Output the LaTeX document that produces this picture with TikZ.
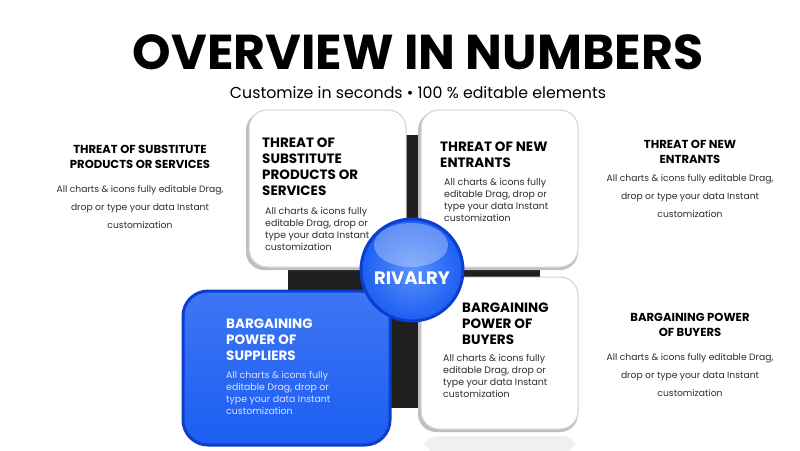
\documentclass[tikz,border=0pt]{standalone}
\usepackage{fontspec}
\setmainfont{Poppins}
\usetikzlibrary{positioning,shadings}
\definecolor{rivalblue}{RGB}{28,94,242}
\definecolor{deepblue}{RGB}{12,62,205}
\definecolor{lightblue}{RGB}{90,145,250}
\definecolor{inkgray}{RGB}{45,45,45}
\tikzset{
  card/.style={draw=gray!35, line width=1pt, fill=white, rounded corners=18pt},
  cardshade/.style={fill=gray!50, rounded corners=18pt},
  cardhead/.style={anchor=west, align=left, inner sep=0pt, font=\bfseries\fontsize{13.5}{16}\selectfont},
  cardbody/.style={anchor=west, align=left, inner sep=0pt, text=inkgray, font=\fontsize{9.4}{12}\selectfont},
  sidehead/.style={align=center, inner sep=0pt, font=\bfseries\fontsize{11.6}{14.5}\selectfont},
  sidebody/.style={align=center, inner sep=0pt, text=inkgray, font=\fontsize{9.2}{18}\selectfont},
}
\begin{document}
\begin{tikzpicture}[x=1pt, y=-1pt]
    \useasboundingbox (0,0) rectangle (800,450);
    % heading
    \node[font=\bfseries\fontsize{49}{56}\selectfont] (title) at (418,52) {OVERVIEW IN NUMBERS};
    \node[font=\fontsize{15.8}{18}\selectfont] (subtitle) at (418,93) {Customize in seconds \textbullet\ 100 \% editable elements};
    % dark square behind the cards
    \fill[black!88] (288,135) rectangle (540,408);
    % white cards
    \fill[cardshade] (246,112) rectangle (406,270);
    \draw[card] (249,110) rectangle (406,267);
    \fill[cardshade] (418,112) rectangle (578,270);
    \draw[card] (421,110) rectangle (578,267);
    \fill[gray!12, rounded corners=12pt] (424,436) rectangle (575,452);
    \fill[cardshade] (418,279) rectangle (578,432);
    \draw[card] (421,277) rectangle (578,429);
    % blue card
    \draw[line width=3pt, draw=deepblue, top color=rivalblue!85!white, bottom color=rivalblue, rounded corners=25pt] (183,291) rectangle (390,445);
    % rivalry ball
    \draw[line width=3pt, draw=deepblue, inner color=lightblue, outer color=rivalblue] (412,270) circle (51);
    \fill[white, opacity=0.3] (411,245) ellipse (37 and 22);
    \node[text=white, font=\bfseries\fontsize{18}{20}\selectfont] (rivalry) at (412,278) {RIVALRY};
    % card texts
    \node[cardhead] (subsHead) at (262,167) {THREAT OF\\SUBSTITUTE\\PRODUCTS OR\\SERVICES};
    \node[cardbody] (subsBody) at (265,229) {All charts \& icons fully\\editable Drag, drop or\\type your data Instant\\customization};
    \node[cardhead] (entrHead) at (440,154.5) {THREAT OF NEW\\ENTRANTS};
    \node[cardbody] (entrBody) at (444,200) {All charts \& icons fully\\editable Drag, drop or\\type your data Instant\\customization};
    \node[cardhead] (buyHead) at (462,324) {BARGAINING\\POWER OF\\BUYERS};
    \node[cardbody] (buyBody) at (443,376) {All charts \& icons fully\\editable Drag, drop or\\type your data Instant\\customization};
    \node[cardhead, text=white] (suppHead) at (226,340) {BARGAINING\\POWER OF\\SUPPLIERS};
    \node[cardbody, text=white!88!blue] (suppBody) at (226,393) {All charts \& icons fully\\editable Drag, drop or\\type your data Instant\\customization};
    % side texts
    \node[sidehead] (leftHead) at (140,157) {THREAT OF SUBSTITUTE\\PRODUCTS OR SERVICES};
    \node[sidebody] (leftBody) at (140,207) {All charts \& icons fully editable Drag,\\drop or type your data Instant\\customization};
    \node[sidehead] (rightHead) at (690,152) {THREAT OF NEW\\ENTRANTS};
    \node[sidebody] (rightBody) at (690,196) {All charts \& icons fully editable Drag,\\drop or type your data Instant\\customization};
    \node[sidehead] (lowHead) at (690,325) {BARGAINING POWER\\OF BUYERS};
    \node[sidebody] (lowBody) at (690,375) {All charts \& icons fully editable Drag,\\drop or type your data Instant\\customization};
\end{tikzpicture}
\end{document}
